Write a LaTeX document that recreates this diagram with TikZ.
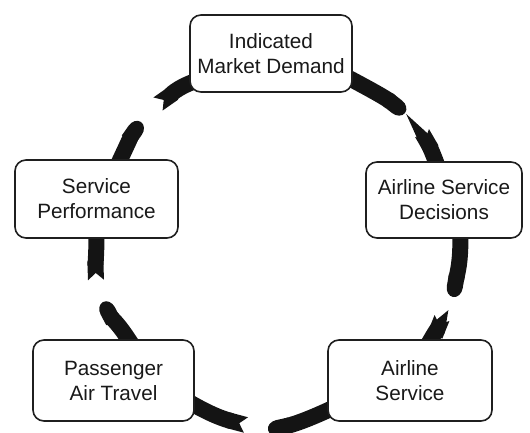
\documentclass[tikz,border=0pt]{standalone}
\usepackage{fontspec}
\setmainfont{Liberation Sans}
\usetikzlibrary{arrows.meta,backgrounds,calc}
\begin{document}
\begin{tikzpicture}[x=1pt,y=1pt,
  stage/.style={draw=black!88, line width=1.6pt, fill=white, rounded corners=11pt,
    align=center, inner sep=0pt, font=\fontsize{20.7}{25}\selectfont, text=black!90},
  ribbon/.style={line width=16pt, draw=black!92},
  leadpart/.style={ribbon, -{Round Cap[length=10pt]}, shorten <=-7pt},
  tailpart/.style={ribbon, {Triangle Cap[reversed,length=7pt]}-, shorten >=-7pt},
]
\useasboundingbox (0,0) rectangle (530,432);

% the five stages of the cycle
\node[stage, minimum width=162pt, minimum height=77pt] (dem)  at (271,378.5) {Indicated\\Market Demand};
\node[stage, minimum width=156pt, minimum height=76pt] (dec)  at (444,232)   {Airline Service\\Decisions};
\node[stage, minimum width=164pt, minimum height=81pt] (svc)  at (410,51.5)  {Airline\\Service};
\node[stage, minimum width=161pt, minimum height=81pt] (pax)  at (113.5,51.5) {Passenger\\Air Travel};
\node[stage, minimum width=163pt, minimum height=78pt] (perf) at (96.5,233)  {Service\\Performance};

% break points of the broken arrows
\coordinate (t1) at (405,319);  \coordinate (h1) at (422,299);
\coordinate (t2) at (453,135);  \coordinate (h2) at (442,114);
\coordinate (t3) at (268,2);    \coordinate (h3) at (246,7);
\coordinate (t4) at (103,130);  \coordinate (h4) at (96,152);
\coordinate (t5) at (141,310);  \coordinate (h5) at (158,328);

\begin{scope}[on background layer]
  \clip (0,0) rectangle (530,432);
  % Indicated Market Demand -> Airline Service Decisions
  \draw[leadpart] (dem.-18) to[out=-28,in=142] (t1);
  \draw[tailpart] (h1) to[out=-60,in=110] (dec.102);
  % Airline Service Decisions -> Airline Service
  \draw[leadpart] (dec.-67) to[out=-88,in=80] (t2);
  \draw[tailpart] (h2) to[out=-112,in=60] (svc.63);
  % Airline Service -> Passenger Air Travel
  \draw[leadpart] (svc.200) to[out=205,in=12] (t3);
  \draw[tailpart] (h3) to[out=165,in=-30] (pax.-17);
  % Passenger Air Travel -> Service Performance
  \draw[leadpart] (pax.70) to[out=122,in=-62] (t4);
  \draw[tailpart] (h4) to[out=92,in=-90] (perf.south);
  % Service Performance -> Indicated Market Demand
  \draw[leadpart] (perf.59) to[out=65,in=-125] (t5);
  \draw[tailpart] (h5) to[out=35,in=200] (dem.200);
\end{scope}
\end{tikzpicture}
\end{document}
